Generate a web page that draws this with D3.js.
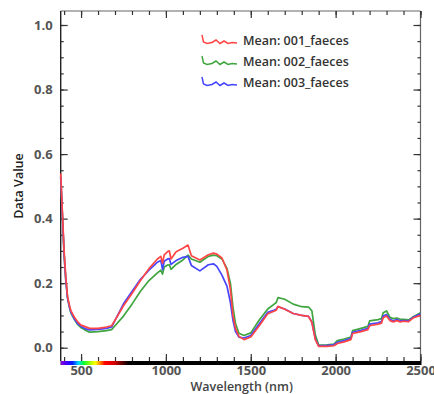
<!DOCTYPE html>
<html>
<head>
<meta charset="utf-8">
<script src="https://cdn.jsdelivr.net/npm/d3@7"></script>
<style>
  html, body { margin: 0; padding: 0; background: #fff; }
  svg { display: block; }
  text { font-family: "Open Sans", "Noto Sans", sans-serif; }
</style>
</head>
<body>
<svg id="chart" width="434" height="394"></svg>
<script>
// Wavelengths (nm) shared by the three mean spectra
const wavelengths = [380, 390, 400, 410, 420, 430, 440, 460, 480, 500, 520, 550, 600, 650, 680, 700,
  750, 800, 850, 900, 950, 970, 980, 990, 1010, 1020, 1030, 1060, 1100, 1130, 1150, 1200, 1250,
  1280, 1300, 1330, 1360, 1380, 1395, 1410, 1430, 1460, 1500, 1550, 1600, 1640, 1650, 1660,
  1700, 1750, 1800, 1840, 1860, 1880, 1900, 1950, 1990, 2010, 2050, 2090, 2100, 2150, 2190,
  2200, 2250, 2270, 2280, 2300, 2320, 2340, 2360, 2380, 2400, 2430, 2460, 2500];

const mean001 = [0.54, 0.42, 0.30, 0.22, 0.16, 0.135, 0.115, 0.095, 0.080, 0.070, 0.066, 0.060, 0.060, 0.064, 0.068, 0.085,
  0.130, 0.168, 0.208, 0.245, 0.275, 0.283, 0.262, 0.288, 0.298, 0.300, 0.275, 0.297, 0.308, 0.318, 0.285, 0.272, 0.288,
  0.293, 0.290, 0.278, 0.240, 0.180, 0.100, 0.060, 0.035, 0.025, 0.033, 0.068, 0.105, 0.114, 0.116, 0.128,
  0.119, 0.106, 0.100, 0.097, 0.078, 0.025, 0.004, 0.004, 0.006, 0.013, 0.018, 0.025, 0.044, 0.050, 0.056,
  0.068, 0.073, 0.076, 0.093, 0.098, 0.084, 0.080, 0.084, 0.080, 0.082, 0.081, 0.093, 0.100];

const mean002 = [0.53, 0.41, 0.29, 0.21, 0.155, 0.128, 0.108, 0.088, 0.072, 0.062, 0.056, 0.048, 0.050, 0.053, 0.056, 0.068,
  0.098, 0.135, 0.175, 0.208, 0.232, 0.240, 0.228, 0.250, 0.256, 0.257, 0.243, 0.258, 0.272, 0.287, 0.275, 0.265, 0.283,
  0.287, 0.285, 0.275, 0.245, 0.200, 0.125, 0.075, 0.045, 0.038, 0.046, 0.086, 0.120, 0.136, 0.140, 0.155,
  0.150, 0.135, 0.127, 0.126, 0.114, 0.040, 0.008, 0.009, 0.011, 0.022, 0.027, 0.033, 0.053, 0.060, 0.066,
  0.083, 0.087, 0.090, 0.108, 0.114, 0.094, 0.090, 0.092, 0.088, 0.088, 0.086, 0.097, 0.108];

const mean003 = [0.53, 0.41, 0.29, 0.21, 0.155, 0.130, 0.110, 0.090, 0.075, 0.066, 0.060, 0.055, 0.057, 0.060, 0.064, 0.085,
  0.136, 0.174, 0.212, 0.240, 0.265, 0.270, 0.242, 0.268, 0.275, 0.276, 0.258, 0.270, 0.280, 0.283, 0.255, 0.238, 0.257,
  0.260, 0.252, 0.225, 0.190, 0.140, 0.085, 0.050, 0.033, 0.030, 0.038, 0.074, 0.110, 0.117, 0.119, 0.127,
  0.120, 0.106, 0.100, 0.097, 0.080, 0.028, 0.006, 0.007, 0.009, 0.017, 0.022, 0.029, 0.048, 0.054, 0.060,
  0.073, 0.077, 0.081, 0.098, 0.103, 0.088, 0.083, 0.087, 0.083, 0.084, 0.083, 0.095, 0.105];

const seriesNames = ["Mean: 001_faeces", "Mean: 002_faeces", "Mean: 003_faeces"];
const seriesColors = ["#ff4646", "#3fa53f", "#4646ff"];

const xTicks = [500, 1000, 1500, 2000, 2500];
const yTicks = [0.0, 0.2, 0.4, 0.6, 0.8, 1.0];

// Visible band shown under the wavelength axis
const spectrumStops = [
  [380, "#8a00d8"], [420, "#3a00ff"], [450, "#0020ff"], [485, "#00d8ff"], [515, "#00ff30"],
  [560, "#b8ff00"], [585, "#ffff00"], [615, "#ff7a00"], [640, "#ff0000"], [700, "#d00000"],
  [740, "#600000"], [780, "#000000"]
];

const svg = d3.select("#chart");
const plot = { left: 60.7, right: 420.5, top: 11, bar: 361 };

const x = d3.scaleLinear().domain([380, 2500]).range([plot.left, plot.right]);
const y = d3.scaleLinear().domain([0, 1]).range([347.7, 25]);

// Frame
svg.append("line").attr("x1", plot.left).attr("x2", plot.right).attr("y1", plot.top).attr("y2", plot.top)
  .attr("stroke", "#666").attr("stroke-width", 1.2);
svg.append("line").attr("x1", plot.right).attr("x2", plot.right).attr("y1", plot.top).attr("y2", plot.bar)
  .attr("stroke", "#666").attr("stroke-width", 1.2);

// Y axis (left) with inward ticks
const yMinor = d3.range(0, 1.0001, 0.05).map(v => +v.toFixed(2));
const axisStyle = g => {
  g.select(".domain").remove();
  g.selectAll(".tick line").attr("stroke", "#333").attr("stroke-width", 1.2);
};

svg.append("g").attr("transform", `translate(${plot.left},0)`)
  .call(d3.axisLeft(y).tickValues(yMinor).tickSize(-3).tickFormat(""))
  .call(axisStyle);
svg.append("g").attr("transform", `translate(${plot.left},0)`)
  .call(d3.axisLeft(y).tickValues(yTicks).tickSize(-7).tickPadding(8).tickFormat(d3.format(".1f")))
  .call(axisStyle)
  .call(g => g.selectAll("text").attr("fill", "#555").attr("font-size", 13).attr("font-weight", 700));

// Right axis ticks
svg.append("g").attr("transform", `translate(${plot.right},0)`)
  .call(d3.axisRight(y).tickValues(yMinor).tickSize(-3).tickFormat(""))
  .call(axisStyle);
svg.append("g").attr("transform", `translate(${plot.right},0)`)
  .call(d3.axisRight(y).tickValues(yTicks).tickSize(-7).tickFormat(""))
  .call(axisStyle);

// Top axis ticks
const xMinor = d3.range(400, 2501, 100);
svg.append("g").attr("transform", `translate(0,${plot.top})`)
  .call(d3.axisTop(x).tickValues(xMinor).tickSize(-4).tickFormat(""))
  .call(axisStyle);
svg.append("g").attr("transform", `translate(0,${plot.top})`)
  .call(d3.axisTop(x).tickValues(xTicks).tickSize(-7).tickFormat(""))
  .call(axisStyle);

// Bottom axis ticks and labels
svg.append("g").attr("transform", `translate(0,${plot.bar})`)
  .call(d3.axisBottom(x).tickValues(xMinor).tickSize(-4).tickFormat(""))
  .call(axisStyle);
svg.append("g").attr("transform", `translate(0,${plot.bar})`)
  .call(d3.axisBottom(x).tickValues(xTicks).tickSize(-7).tickPadding(5).tickFormat(d3.format("d")))
  .call(axisStyle)
  .call(g => g.selectAll("text").attr("fill", "#555").attr("font-size", 13).attr("font-weight", 700));

// Left axis line
svg.append("line").attr("x1", plot.left).attr("x2", plot.left).attr("y1", plot.top).attr("y2", plot.bar)
  .attr("stroke", "#222").attr("stroke-width", 1.4);

// Wavelength bar with the visible spectrum
const defs = svg.append("defs");
const grad = defs.append("linearGradient").attr("id", "spectrum")
  .attr("gradientUnits", "userSpaceOnUse")
  .attr("x1", x(380)).attr("x2", x(780)).attr("y1", 0).attr("y2", 0);
grad.selectAll("stop").data(spectrumStops).join("stop")
  .attr("offset", d => (d[0] - 380) / 400)
  .attr("stop-color", d => d[1]);
svg.append("rect").attr("x", plot.left).attr("y", plot.bar).attr("width", plot.right - plot.left + 1).attr("height", 4)
  .attr("fill", "#000");
svg.append("rect").attr("x", x(380)).attr("y", plot.bar).attr("width", x(780) - x(380)).attr("height", 4)
  .attr("fill", "url(#spectrum)");

// Spectra
const series = [mean001, mean002, mean003];
const line = d3.line().x((d, i) => x(wavelengths[i])).y(d => y(d));
const drawOrder = [1, 2, 0];
svg.append("g").selectAll("path").data(drawOrder).join("path")
  .attr("d", k => line(series[k]))
  .attr("fill", "none")
  .attr("stroke", k => seriesColors[k])
  .attr("stroke-width", 1.7)
  .attr("stroke-linejoin", "round");

// Legend with small spectrum-like glyphs
const glyph = [[0, -5], [1.5, 2], [5, 3.5], [10, 2.5], [14, 0], [18, 3.5], [22, 1], [26, 3.5], [30, 2.5], [35, 3]];
const legend = svg.append("g");
const rows = legend.selectAll("g").data(seriesNames).join("g")
  .attr("transform", (d, i) => `translate(202,${40 + i * 21})`);
rows.append("path")
  .attr("d", () => d3.line()(glyph))
  .attr("fill", "none")
  .attr("stroke", (d, i) => seriesColors[i])
  .attr("stroke-width", 1.5);
rows.append("text")
  .attr("x", 41).attr("y", 5)
  .attr("font-size", 12.5).attr("font-weight", 600).attr("fill", "#333")
  .text(d => d);

// Axis titles
svg.append("text")
  .attr("x", 241.7).attr("y", 391)
  .attr("text-anchor", "middle")
  .attr("font-size", 12.5).attr("font-weight", 600).attr("fill", "#444")
  .text("Wavelength (nm)");
svg.append("text")
  .attr("transform", "translate(23,186) rotate(-90)")
  .attr("text-anchor", "middle")
  .attr("font-size", 12.5).attr("font-weight", 600).attr("fill", "#222")
  .text("Data Value");
</script>
</body>
</html>
